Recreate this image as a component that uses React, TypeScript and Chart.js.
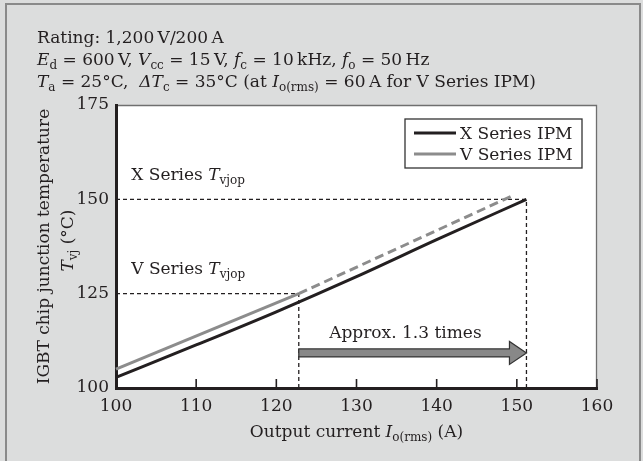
import React, { useEffect, useRef } from "react";
import { Chart, registerables } from "chart.js";
Chart.register(...registerables);

const FONT = '"DejaVu Serif", "Liberation Serif", serif';
const INK = "#231f20";
const GRAY = "#8c8c8c";

// ---- data ----
const xTicks = [100, 110, 120, 130, 140, 150, 160];
const yTicks = [100, 125, 150, 175];

const xSeriesCurrent = [100, 110, 120, 130, 140, 151.2];
const xSeriesTemp = [102.8, 111.4, 120.2, 129.5, 139.3, 150];

const vSeriesCurrent = [100, 122.8];
const vSeriesTemp = [105, 125];
const vSeriesExtCurrent = [122.8, 149.5];
const vSeriesExtTemp = [125, 151];

const xTvjopCurrent = [100, 151.2, 151.2];
const xTvjopTemp = [150, 150, 100];
const vTvjopCurrent = [100, 122.8, 122.8];
const vTvjopTemp = [125, 125, 100];

const arrowFrom = 122.8;
const arrowTo = 151.2;
const arrowLevel = 109.3;
const arrowLabel = "Approx. 1.3 times";
const arrowLabelAt = [136.1, 113.3];

const xLabelAt = [101.9, 155.2];
const vLabelAt = [101.9, 130.2];

const legendLabels = ["X Series IPM", "V Series IPM"];

type Run = { t: string; it?: boolean; sub?: boolean };

const headerLines: Run[][] = [
  [{ t: "Rating: 1,200\u2009V/200\u2009A" }],
  [
    { t: "E", it: true }, { t: "d", sub: true }, { t: " = 600\u2009V, " },
    { t: "V", it: true }, { t: "cc", sub: true }, { t: " = 15\u2009V, " },
    { t: "f", it: true }, { t: "c", sub: true }, { t: " = 10\u2009kHz, " },
    { t: "f", it: true }, { t: "o", sub: true }, { t: " = 50\u2009Hz" },
  ],
  [
    { t: "T", it: true }, { t: "a", sub: true }, { t: " = 25°C,  " },
    { t: "\u0394T", it: true }, { t: "c", sub: true }, { t: " = 35°C (at " },
    { t: "I", it: true }, { t: "o(rms)", sub: true }, { t: " = 60\u2009A for V Series IPM)" },
  ],
];
const yTitle1: Run[] = [{ t: "IGBT chip junction temperature" }];
const yTitle2: Run[] = [{ t: "T", it: true }, { t: "vj", sub: true }, { t: " (°C)" }];
const xTitle: Run[] = [{ t: "Output current " }, { t: "I", it: true }, { t: "o(rms)", sub: true }, { t: " (A)" }];
const xSeriesLabel: Run[] = [{ t: "X Series " }, { t: "T", it: true }, { t: "vjop", sub: true }];
const vSeriesLabel: Run[] = [{ t: "V Series " }, { t: "T", it: true }, { t: "vjop", sub: true }];

const SIZE = 16;

function fontFor(r: Run, size: number) {
  return `${r.it ? "italic " : ""}${r.sub ? Math.round(size * 0.7) : size}px ${FONT}`;
}
function measureRuns(ctx: CanvasRenderingContext2D, runs: Run[], size: number) {
  let w = 0;
  for (const r of runs) {
    ctx.font = fontFor(r, size);
    w += ctx.measureText(r.t).width;
  }
  return w;
}
function drawRuns(
  ctx: CanvasRenderingContext2D,
  runs: Run[],
  x: number,
  y: number,
  size: number,
  align: "left" | "center" | "right" = "left"
) {
  const w = measureRuns(ctx, runs, size);
  let cx = align === "center" ? x - w / 2 : align === "right" ? x - w : x;
  ctx.textAlign = "left";
  ctx.textBaseline = "alphabetic";
  ctx.fillStyle = INK;
  for (const r of runs) {
    ctx.font = fontFor(r, size);
    ctx.fillText(r.t, cx, y + (r.sub ? size * 0.25 : 0));
    cx += ctx.measureText(r.t).width;
  }
}

const pts = (xs: number[], ys: number[]) => xs.map((x, i) => ({ x, y: ys[i] }));

const framePlugin = {
  id: "frame",
  beforeDraw(chart: any) {
    const { ctx, width, height, chartArea: ca } = chart;
    ctx.save();
    ctx.fillStyle = "#dcdddd";
    ctx.fillRect(0, 0, width, height);
    ctx.strokeStyle = "#8a8a8a";
    ctx.lineWidth = 2;
    ctx.beginPath();
    ctx.moveTo(6, height + 2);
    ctx.lineTo(6, 4);
    ctx.lineTo(640, 4);
    ctx.lineTo(640, height + 2);
    ctx.stroke();
    ctx.fillStyle = "#ffffff";
    ctx.fillRect(ca.left, ca.top, ca.right - ca.left, ca.bottom - ca.top);
    ctx.strokeStyle = "#6f6f6f";
    ctx.lineWidth = 1.3;
    ctx.beginPath();
    ctx.moveTo(ca.left, ca.top + 0.5);
    ctx.lineTo(ca.right - 0.5, ca.top + 0.5);
    ctx.lineTo(ca.right - 0.5, ca.bottom);
    ctx.stroke();
    ctx.restore();
  },
  afterDraw(chart: any) {
    const { ctx, chartArea: ca } = chart;
    const xs = chart.scales.x;
    const ys = chart.scales.y;
    ctx.save();
    // inward x ticks
    ctx.strokeStyle = INK;
    ctx.lineWidth = 1.6;
    for (const v of xTicks) {
      const px = xs.getPixelForValue(v);
      ctx.beginPath();
      ctx.moveTo(px, ca.bottom);
      ctx.lineTo(px, ca.bottom - 9);
      ctx.stroke();
    }
    // header
    headerLines.forEach((ln, i) => drawRuns(ctx, ln, 37, 43 + i * 22, SIZE + 1));
    // y title
    const midY = (ca.top + ca.bottom) / 2;
    ctx.save();
    ctx.translate(49, midY);
    ctx.rotate(-Math.PI / 2);
    drawRuns(ctx, yTitle1, 0, 0, SIZE + 1, "center");
    ctx.restore();
    ctx.save();
    ctx.translate(73, midY - 6);
    ctx.rotate(-Math.PI / 2);
    drawRuns(ctx, yTitle2, 0, 0, SIZE + 1, "center");
    ctx.restore();
    // x title
    drawRuns(ctx, xTitle, (ca.left + ca.right) / 2, 437, SIZE + 1, "center");
    // annotations
    drawRuns(ctx, xSeriesLabel, xs.getPixelForValue(xLabelAt[0]), ys.getPixelForValue(xLabelAt[1]), SIZE + 1);
    drawRuns(ctx, vSeriesLabel, xs.getPixelForValue(vLabelAt[0]), ys.getPixelForValue(vLabelAt[1]), SIZE + 1);
    drawRuns(
      ctx,
      [{ t: arrowLabel }],
      xs.getPixelForValue(arrowLabelAt[0]),
      ys.getPixelForValue(arrowLabelAt[1]),
      SIZE + 1,
      "center"
    );
    // arrow
    const x0 = xs.getPixelForValue(arrowFrom);
    const x1 = xs.getPixelForValue(arrowTo);
    const yc = ys.getPixelForValue(arrowLevel);
    const sh = 4;
    const hh = 11.5;
    const hl = 17;
    ctx.beginPath();
    ctx.moveTo(x0, yc - sh);
    ctx.lineTo(x1 - hl, yc - sh);
    ctx.lineTo(x1 - hl, yc - hh);
    ctx.lineTo(x1, yc);
    ctx.lineTo(x1 - hl, yc + hh);
    ctx.lineTo(x1 - hl, yc + sh);
    ctx.lineTo(x0, yc + sh);
    ctx.closePath();
    ctx.fillStyle = "#888888";
    ctx.fill();
    ctx.strokeStyle = "#333333";
    ctx.lineWidth = 1.2;
    ctx.stroke();
    // legend
    const lx = ca.right - 192;
    const ly = ca.top + 14;
    const lw = 177;
    const lh = 49;
    ctx.fillStyle = "#ffffff";
    ctx.fillRect(lx, ly, lw, lh);
    ctx.strokeStyle = "#333333";
    ctx.lineWidth = 1.3;
    ctx.strokeRect(lx, ly, lw, lh);
    const colors = [INK, GRAY];
    legendLabels.forEach((lab, i) => {
      const rowY = ly + 14 + i * 21;
      ctx.strokeStyle = colors[i];
      ctx.lineWidth = 3;
      ctx.beginPath();
      ctx.moveTo(lx + 9, rowY);
      ctx.lineTo(lx + 51, rowY);
      ctx.stroke();
      drawRuns(ctx, [{ t: lab }], lx + 55, rowY + 6, SIZE + 1);
    });
    ctx.restore();
  },
};

export default function App() {
  const ref = useRef<HTMLCanvasElement | null>(null);
  useEffect(() => {
    if (!ref.current) return;
    const tickFont = { family: FONT, size: SIZE + 1 };
    const chart = new Chart(ref.current, {
      type: "line",
      data: {
        datasets: [
          {
            label: legendLabels[0],
            data: pts(xSeriesCurrent, xSeriesTemp),
            borderColor: INK,
            borderWidth: 3,
            pointRadius: 0,
            cubicInterpolationMode: "monotone",
          },
          {
            label: legendLabels[1],
            data: pts(vSeriesCurrent, vSeriesTemp),
            borderColor: GRAY,
            borderWidth: 3,
            pointRadius: 0,
          },
          {
            label: "V ext",
            data: pts(vSeriesExtCurrent, vSeriesExtTemp),
            borderColor: GRAY,
            borderWidth: 3,
            borderDash: [9, 5],
            pointRadius: 0,
          },
          {
            label: "X Tvjop",
            data: pts(xTvjopCurrent, xTvjopTemp),
            borderColor: INK,
            borderWidth: 1.3,
            borderDash: [4, 3],
            pointRadius: 0,
          },
          {
            label: "V Tvjop",
            data: pts(vTvjopCurrent, vTvjopTemp),
            borderColor: INK,
            borderWidth: 1.3,
            borderDash: [4, 3],
            pointRadius: 0,
          },
        ],
      },
      options: {
        animation: false,
        responsive: false,
        devicePixelRatio: 1,
        clip: false as any,
        layout: { padding: { left: 76, right: 46, top: 105, bottom: 33 } },
        plugins: { legend: { display: false }, tooltip: { enabled: false } },
        scales: {
          x: {
            type: "linear",
            min: 100,
            max: 160,
            afterBuildTicks: (s: any) => {
              s.ticks = xTicks.map((v) => ({ value: v }));
            },
            afterFit: (s: any) => {
              s.height = 40;
            },
            ticks: { font: tickFont, color: INK, padding: 8 },
            grid: { drawOnChartArea: false, drawTicks: false },
            border: { color: INK, width: 3 },
          },
          y: {
            type: "linear",
            min: 100,
            max: 175,
            afterBuildTicks: (s: any) => {
              s.ticks = yTicks.map((v) => ({ value: v }));
            },
            afterFit: (s: any) => {
              s.width = 40;
            },
            ticks: { font: tickFont, color: INK, padding: 7 },
            grid: { drawOnChartArea: false, drawTicks: false },
            border: { color: INK, width: 3 },
          },
        },
      },
      plugins: [framePlugin],
    });
    return () => chart.destroy();
  }, []);
  return (
    <div style={{ position: "fixed", left: 0, top: 0, width: 643, height: 461 }}>
      <canvas ref={ref} width={643} height={461} style={{ display: "block" }} />
    </div>
  );
}
